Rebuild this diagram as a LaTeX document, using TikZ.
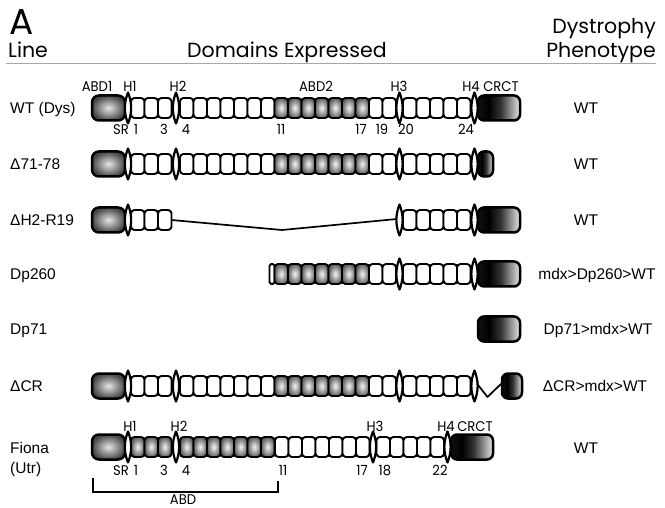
\documentclass[tikz,border=0pt]{standalone}
\usepackage{fontspec}
\setmainfont{Liberation Sans}
\newfontfamily\geo{Poppins}
\newfontfamily\geon[FakeStretch=0.94]{Poppins}

% shading of the cysteine-rich / C-terminal block: dark core fading to white
\pgfdeclarehorizontalshading{crshade}{100bp}{color(0bp)=(black!80); color(38bp)=(black); color(52bp)=(black!80); color(78bp)=(white); color(100bp)=(black!30)}

% one run of spectrin repeats: x start, row y, count, style
\newcommand\srrun[4]{\foreach \k in {1,...,#3}{\draw[#4] ({#1+13.5*(\k-1)},{#2-10}) rectangle ++(13.5,20);}}
% hinge: narrow pointed spindle
\newcommand\hng[2]{\draw[hinge] (#1,#2-15.5) .. controls (#1+4.2,#2-5) and (#1+4.2,#2+5) .. (#1,#2+15.5) .. controls (#1-4.2,#2+5) and (#1-4.2,#2-5) .. (#1,#2-15.5) -- cycle;}
% actin-binding block
\newcommand\abdbox[2]{\draw[abd] (#1,#2-12.5) rectangle ++(33,25);}
% CR/CT block: x left, row y, x right
\newcommand\crbox[3]{\draw[crct] (#1,#2-12.5) rectangle (#3,#2+12.5);}

\begin{document}
\begin{tikzpicture}[x=1pt,y=-1pt,
  rep/.style={draw=black, line width=1.9pt, rounded corners=3.5pt, fill=white},
  srep/.style={draw=black, line width=1.9pt, rounded corners=3.5pt, inner color=gray!8, outer color=black!62},
  abd/.style={draw=black, line width=2.5pt, rounded corners=7pt, inner color=gray!20, outer color=black!72},
  crct/.style={draw=black, line width=2.5pt, rounded corners=6pt, shading=crshade},
  hinge/.style={draw=black, line width=2.2pt, fill=white, line join=round},
  lab/.style={font=\geon\fontsize{14}{15}\selectfont, inner sep=0pt, anchor=base},
  head/.style={font=\geo\fontsize{20.5}{22}\selectfont, inner sep=0pt},
  line/.style={font=\fontsize{15.5}{16}\selectfont, inner sep=0pt, anchor=base west},
  pheno/.style={font=\fontsize{15.5}{16}\selectfont, inner sep=0pt, anchor=base},
  bracket/.style={draw=black, line width=1.5pt}
]
\useasboundingbox (0,0) rectangle (665,508);

% ---------- headings ----------
\node[inner sep=0pt, anchor=base west, font=\geo\fontsize{36}{36}\selectfont] (panel) at (9,35) {A};
\node[head, anchor=base west] (hline) at (8,58) {Line};
\node[head, anchor=base west] (hdom) at (187,58) {Domains Expressed};
\node[head, anchor=base east] (hdys) at (656,34) {Dystrophy};
\node[head, anchor=base east] (hphe) at (656,58) {Phenotype};
\draw[gray!70, line width=1.3pt] (6,63.5) -- (656,63.5);

% ---------- WT (Dys) ----------
\abdbox{92}{108}
\srrun{131}{108}{3}{rep}
\srrun{180}{108}{7}{rep}
\srrun{274.5}{108}{7}{srep}
\srrun{369}{108}{2}{rep}
\srrun{403}{108}{5}{rep}
\crbox{478}{108}{520}
\hng{128}{108}\hng{176}{108}\hng{399.5}{108}\hng{474.5}{108}
\node[lab] (wabd1) at (97,92) {ABD1};
\node[lab] (wh1) at (130,92) {H1};
\node[lab] (wh2) at (178,92) {H2};
\node[lab] (wabd2) at (316,92) {ABD2};
\node[lab] (wh3) at (399,92) {H3};
\node[lab] (wh4) at (471,92) {H4};
\node[lab] (wcrct) at (501,92) {CRCT};
\node[lab] (wsr) at (121,135) {SR};
\node[lab] (w1) at (136,135) {1};
\node[lab] (w3) at (164,135) {3};
\node[lab] (w4) at (186,135) {4};
\node[lab] (w11) at (281,135) {11};
\node[lab] (w17) at (361,135) {17};
\node[lab] (w19) at (382,135) {19};
\node[lab] (w20) at (406,135) {20};
\node[lab] (w24) at (466,135) {24};

% ---------- Delta71-78 ----------
\abdbox{92}{164}
\srrun{131}{164}{3}{rep}
\srrun{180}{164}{7}{rep}
\srrun{274.5}{164}{7}{srep}
\srrun{369}{164}{2}{rep}
\srrun{403}{164}{5}{rep}
\crbox{478}{164}{493}
\hng{128}{164}\hng{176}{164}\hng{399.5}{164}\hng{474.5}{164}

% ---------- DeltaH2-R19 ----------
\abdbox{92}{220}
\srrun{131}{220}{3}{rep}
\coordinate (dgapA) at (171.5,220);
\coordinate (dgapB) at (282,230);
\coordinate (dgapC) at (397,219);
\draw[line width=1.7pt] (dgapA) -- (dgapB) -- (dgapC);
\srrun{403}{220}{5}{rep}
\crbox{478}{220}{520}
\hng{128}{220}\hng{399.5}{220}\hng{474.5}{220}

% ---------- Dp260 ----------
\draw[draw=black, line width=1.9pt, rounded corners=1.8pt, fill=white] (269.5,264) rectangle (274.5,284);
\srrun{274.5}{274}{7}{srep}
\srrun{369}{274}{2}{rep}
\srrun{403}{274}{5}{rep}
\crbox{478}{274}{520}
\hng{399.5}{274}\hng{474.5}{274}

% ---------- Dp71 ----------
\crbox{478}{329}{520}

% ---------- DeltaCR ----------
\abdbox{92}{386}
\srrun{131}{386}{3}{rep}
\srrun{180}{386}{7}{rep}
\srrun{274.5}{386}{7}{srep}
\srrun{369}{386}{2}{rep}
\srrun{403}{386}{5}{rep}
\coordinate (zA) at (476.5,383);
\coordinate (zB) at (487.5,397);
\coordinate (zC) at (502,383);
\draw[line width=1.7pt, line join=round] (zA) -- (zB) -- (zC);
\crbox{502}{386}{522}
\hng{128}{386}\hng{176}{386}\hng{399.5}{386}\hng{474.5}{386}

% ---------- Fiona (Utr) ----------
\abdbox{92}{447}
\srrun{131}{447}{3}{srep}
\srrun{180}{447}{7}{srep}
\srrun{275}{447}{7}{rep}
\srrun{376.5}{447}{5}{rep}
\crbox{451}{447}{493}
\hng{128}{447}\hng{176}{447}\hng{373}{447}\hng{447.5}{447}
\node[lab] (fh1) at (130,431.5) {H1};
\node[lab] (fh2) at (179,431.5) {H2};
\node[lab] (fh3) at (375,431.5) {H3};
\node[lab] (fh4) at (446,431.5) {H4};
\node[lab] (fcrct) at (475,431.5) {CRCT};
\node[lab] (fsr) at (121,475) {SR};
\node[lab] (f1) at (136,475) {1};
\node[lab] (f3) at (164,475) {3};
\node[lab] (f4) at (186,475) {4};
\node[lab] (f11) at (283,475) {11};
\node[lab] (f17) at (362,475) {17};
\node[lab] (f18) at (385,475) {18};
\node[lab] (f22) at (440,475) {22};
\coordinate (brA) at (93,478);
\coordinate (brB) at (278,481);
\draw[bracket] (brA) -- (93,492) -- (278,492) -- (brB);
\node[lab] (fabd) at (183,504) {ABD};

% ---------- line names ----------
\node[line] (nwt) at (10,113.5) {WT (Dys)};
\node[line] (nd71) at (10,169.5) {\char"0394 71-78};
\node[line] (ndh2) at (10,225.5) {\char"0394 H2-R19};
\node[line] (ndp260) at (10,279.5) {Dp260};
\node[line] (ndp71) at (10,334.5) {Dp71};
\node[line] (ndcr) at (10,391.5) {\char"0394 CR};
\node[line] (nfio) at (10,453.5) {Fiona};
\node[line] (nutr) at (10,473.5) {(Utr)};

% ---------- phenotypes ----------
\node[pheno] (pwt) at (586,113.5) {WT};
\node[pheno] (pd71) at (586,169.5) {WT};
\node[pheno] (pdh2) at (586,225.5) {WT};
\node[pheno] (pdp260) at (597,279.5) {mdx>Dp260>WT};
\node[pheno] (pdp71) at (598,334.5) {Dp71>mdx>WT};
\node[pheno] (pdcr) at (595,391.5) {\char"0394 CR>mdx>WT};
\node[pheno] (pfio) at (586,453.5) {WT};
\end{tikzpicture}
\end{document}
